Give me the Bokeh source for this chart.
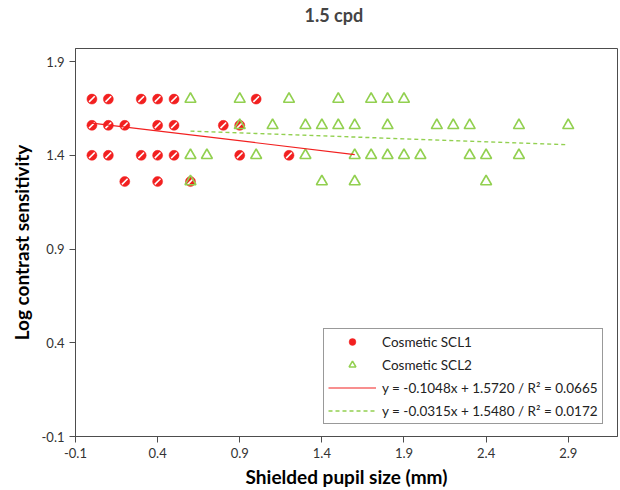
import math
from bokeh.plotting import figure
from bokeh.models import FixedTicker, PrintfTickFormatter, Legend, LegendItem, Range1d
from bokeh.embed import file_html
from bokeh.resources import INLINE

# ---- data ----
scl1_x = [0.0, 0.1, 0.3, 0.4, 0.5, 1.0,
          0.0, 0.1, 0.2, 0.4, 0.5, 0.8, 0.9,
          0.0, 0.1, 0.3, 0.4, 0.5, 0.9, 1.2,
          0.2, 0.4, 0.6]
scl1_y = [1.70] * 6 + [1.56] * 7 + [1.40] * 7 + [1.26] * 3

scl2_x = [0.6, 0.9, 1.2, 1.5, 1.7, 1.8, 1.9,
          0.9, 1.1, 1.3, 1.4, 1.5, 1.6, 1.8, 2.1, 2.2, 2.3, 2.6, 2.9,
          0.6, 0.7, 1.0, 1.3, 1.6, 1.7, 1.8, 1.9, 2.0, 2.3, 2.4, 2.6,
          0.6, 1.4, 1.6, 2.4]
scl2_y = [1.70] * 7 + [1.56] * 12 + [1.40] * 12 + [1.26] * 4

fit1_slope, fit1_intercept, fit1_r2 = -0.1048, 1.5720, 0.0665
fit2_slope, fit2_intercept, fit2_r2 = -0.0315, 1.5480, 0.0172
fit1_xrange = [0.0, 1.6]
fit2_xrange = [0.6, 2.9]

x_ticks = [-0.1, 0.4, 0.9, 1.4, 1.9, 2.4, 2.9]
y_ticks = [-0.1, 0.4, 0.9, 1.4, 1.9]

FONT = "Lato"
RED = "#f22020"
GREEN = "#92d050"

p = figure(width=620, height=490, output_backend="svg", toolbar_location=None,
           x_range=Range1d(-0.1, 3.2), y_range=Range1d(-0.1, 1.97),
           min_border_left=75, min_border_right=3, min_border_top=47, min_border_bottom=50)

p.title.text = "1.5 cpd\n"
p.title.text_font = FONT
p.title.text_font_size = "18px"
p.title.text_font_style = "bold"
p.title.align = "left"
p.title.offset = 229
p.title.standoff = 2

p.xgrid.visible = False
p.ygrid.visible = False
p.outline_line_color = "#4d4d4d"
p.outline_line_width = 1
p.background_fill_color = "white"
p.border_fill_color = "white"

for ax in (p.xaxis[0], p.yaxis[0]):
    ax.axis_line_color = "#4d4d4d"
    ax.major_tick_line_color = "#4d4d4d"
    ax.minor_tick_line_color = None
    ax.major_tick_in = 0
    ax.major_tick_out = 6
    ax.major_label_text_font = FONT
    ax.major_label_text_font_size = "13px"
    ax.major_label_text_color = "#333333"
    ax.axis_label_text_font = FONT
    ax.axis_label_text_font_size = "19px"
    ax.axis_label_text_font_style = "bold"
    ax.axis_label_text_color = "black"
    ax.formatter = PrintfTickFormatter(format="%.1f")

p.xaxis[0].ticker = FixedTicker(ticks=x_ticks)
p.yaxis[0].ticker = FixedTicker(ticks=y_ticks)
p.xaxis[0].axis_label = "Shielded pupil size (mm)"
p.yaxis[0].axis_label = "Log contrast sensitivity"
p.xaxis[0].axis_label_standoff = 4
p.yaxis[0].axis_label_standoff = 6

r1 = p.scatter(scl1_x, scl1_y, marker="circle", size=10, fill_color=RED, line_color=RED,
               line_width=0.5)
r1h = p.scatter(scl1_x, scl1_y, marker="dash", size=8, angle=math.pi / 4,
                line_color="white", line_width=1.6)
r2 = p.scatter(scl2_x, scl2_y, marker="triangle", size=11, fill_color=None,
               line_color=GREEN, line_width=1.6)

fy1 = [fit1_slope * x + fit1_intercept for x in fit1_xrange]
fy2 = [fit2_slope * x + fit2_intercept for x in fit2_xrange]
l1 = p.line(fit1_xrange, fy1, line_color=RED, line_width=1.2)
l2 = p.line(fit2_xrange, fy2, line_color=GREEN, line_width=1.4, line_dash="4 3")

lab1 = "y = %.4fx + %.4f / R\u00b2 = %.4f" % (fit1_slope, fit1_intercept, fit1_r2)
lab2 = "y = %.4fx + %.4f / R\u00b2 = %.4f" % (fit2_slope, fit2_intercept, fit2_r2)

legend = Legend(items=[
    LegendItem(label="Cosmetic SCL1", renderers=[r1]),
    LegendItem(label="Cosmetic SCL2", renderers=[r2]),
    LegendItem(label=lab1, renderers=[l1]),
    LegendItem(label=lab2, renderers=[l2]),
], location=(248, 12))
legend.label_text_font = FONT
legend.label_text_font_size = "13.5px"
legend.label_text_color = "#222222"
legend.border_line_color = "#333333"
legend.border_line_width = 1
legend.padding = 4
legend.spacing = 6
legend.glyph_width = 48
legend.glyph_height = 17
legend.label_height = 17
legend.label_standoff = 6
legend.margin = 0
legend.background_fill_alpha = 1
p.add_layout(legend, "center")

open("out.html", "w").write(file_html(p, INLINE))
